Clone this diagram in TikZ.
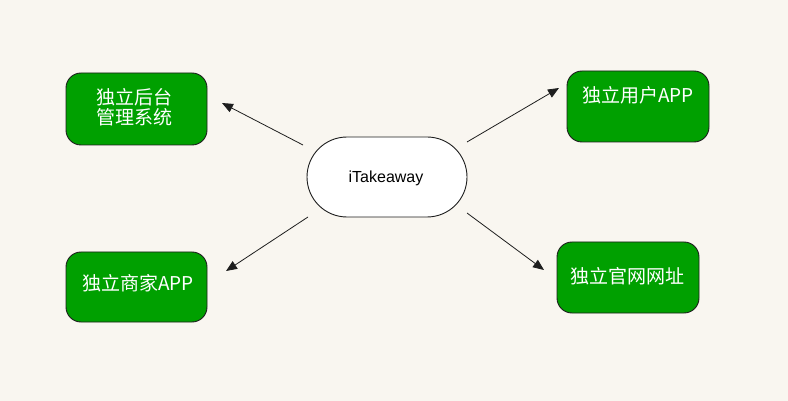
\documentclass[tikz,border=0pt]{standalone}
\usepackage{fontspec}
\setmainfont{Liberation Sans}
\newfontfamily\cjk{Noto Sans CJK SC}
\usetikzlibrary{arrows.meta,shapes.misc}
\definecolor{bgc}{RGB}{249,246,240}
\definecolor{boxgreen}{RGB}{0,160,0}
\definecolor{edgec}{RGB}{30,30,30}
\tikzset{
  gbox/.style={draw=edgec, line width=0.9pt, fill=boxgreen, rounded corners=15pt, inner sep=0pt},
  gtext/.style={text=white, font=\cjk\fontsize{19}{20}\selectfont, align=center, inner sep=0pt},
  hub/.style={draw=edgec, line width=0.9pt, fill=white, rounded rectangle,
    minimum width=160pt, minimum height=80pt, inner sep=0pt},
  link/.style={draw=edgec, line width=0.8pt, -{Triangle[length=11pt,width=9pt]}}
}
\begin{document}
\begin{tikzpicture}[x=1pt,y=-1pt]
\fill[bgc] (0,0) rectangle (788,401);
\useasboundingbox (0,0) rectangle (788,401);
% boxes
\node[gbox, minimum width=141pt, minimum height=72pt] (admin) at (136.5,109) {};
\node[gtext] (admintxt) at (134,107.5) {独立后台\\管理系统};
\node[gbox, minimum width=142pt, minimum height=71pt] (user) at (638,106.5) {};
\node[gtext] (usertxt) at (638,95) {独立用户APP};
\node[gbox, minimum width=141pt, minimum height=70pt] (shop) at (136.5,287) {};
\node[gtext] (shoptxt) at (138,283) {独立商家APP};
\node[gbox, minimum width=142pt, minimum height=71pt] (web) at (628,277.5) {};
\node[gtext] (webtxt) at (627.5,276) {独立官网网址};
% hub
\node[hub] (hub) at (387,177) {};
\node[font=\fontsize{16}{18}\selectfont, inner sep=0pt] (hubtxt) at (386,178) {iTakeaway};
% arrow ends
\coordinate (a1s) at (303,145); \coordinate (a1e) at (222,103);
\coordinate (a2s) at (467,142); \coordinate (a2e) at (559,88);
\coordinate (a3s) at (308,217); \coordinate (a3e) at (226,271);
\coordinate (a4s) at (467,213); \coordinate (a4e) at (544,270);
\draw[link] (a1s) -- (a1e);
\draw[link] (a2s) -- (a2e);
\draw[link] (a3s) -- (a3e);
\draw[link] (a4s) -- (a4e);
\end{tikzpicture}
\end{document}
